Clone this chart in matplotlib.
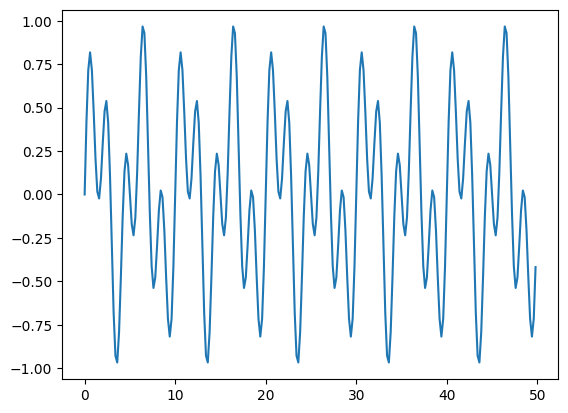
import numpy as np
import matplotlib
matplotlib.use('Agg')
import matplotlib.pyplot as plt

# sample times (step 0.2)
x = np.arange(0, 50, 0.2)

# signal values, one row per 10 time units
y = [
    0.000, 0.418, 0.716, 0.818, 0.716, 0.476, 0.205, 0.016, -0.023, 0.091,
    0.294, 0.478, 0.538, 0.413, 0.110, -0.294, -0.679, -0.928, -0.967, -0.793,
    -0.476, -0.128, 0.133, 0.235, 0.170, 0.000, -0.170, -0.235, -0.133, 0.128,
    0.476, 0.793, 0.967, 0.928, 0.679, 0.294, -0.110, -0.413, -0.538, -0.478,
    -0.294, -0.091, 0.023, -0.016, -0.205, -0.476, -0.716, -0.818, -0.716, -0.418,
    0.000, 0.418, 0.716, 0.818, 0.716, 0.476, 0.205, 0.016, -0.023, 0.091,
    0.294, 0.478, 0.538, 0.413, 0.110, -0.294, -0.679, -0.928, -0.967, -0.793,
    -0.476, -0.128, 0.133, 0.235, 0.170, 0.000, -0.170, -0.235, -0.133, 0.128,
    0.476, 0.793, 0.967, 0.928, 0.679, 0.294, -0.110, -0.413, -0.538, -0.478,
    -0.294, -0.091, 0.023, -0.016, -0.205, -0.476, -0.716, -0.818, -0.716, -0.418,
    0.000, 0.418, 0.716, 0.818, 0.716, 0.476, 0.205, 0.016, -0.023, 0.091,
    0.294, 0.478, 0.538, 0.413, 0.110, -0.294, -0.679, -0.928, -0.967, -0.793,
    -0.476, -0.128, 0.133, 0.235, 0.170, 0.000, -0.170, -0.235, -0.133, 0.128,
    0.476, 0.793, 0.967, 0.928, 0.679, 0.294, -0.110, -0.413, -0.538, -0.478,
    -0.294, -0.091, 0.023, -0.016, -0.205, -0.476, -0.716, -0.818, -0.716, -0.418,
    0.000, 0.418, 0.716, 0.818, 0.716, 0.476, 0.205, 0.016, -0.023, 0.091,
    0.294, 0.478, 0.538, 0.413, 0.110, -0.294, -0.679, -0.928, -0.967, -0.793,
    -0.476, -0.128, 0.133, 0.235, 0.170, 0.000, -0.170, -0.235, -0.133, 0.128,
    0.476, 0.793, 0.967, 0.928, 0.679, 0.294, -0.110, -0.413, -0.538, -0.478,
    -0.294, -0.091, 0.023, -0.016, -0.205, -0.476, -0.716, -0.818, -0.716, -0.418,
    0.000, 0.418, 0.716, 0.818, 0.716, 0.476, 0.205, 0.016, -0.023, 0.091,
    0.294, 0.478, 0.538, 0.413, 0.110, -0.294, -0.679, -0.928, -0.967, -0.793,
    -0.476, -0.128, 0.133, 0.235, 0.170, 0.000, -0.170, -0.235, -0.133, 0.128,
    0.476, 0.793, 0.967, 0.928, 0.679, 0.294, -0.110, -0.413, -0.538, -0.478,
    -0.294, -0.091, 0.023, -0.016, -0.205, -0.476, -0.716, -0.818, -0.716, -0.418,
]

fig, ax = plt.subplots(figsize=(6.4, 4.8), dpi=100)
ax.plot(x, y)

plt.savefig('out.png', dpi=100, bbox_inches='tight')
